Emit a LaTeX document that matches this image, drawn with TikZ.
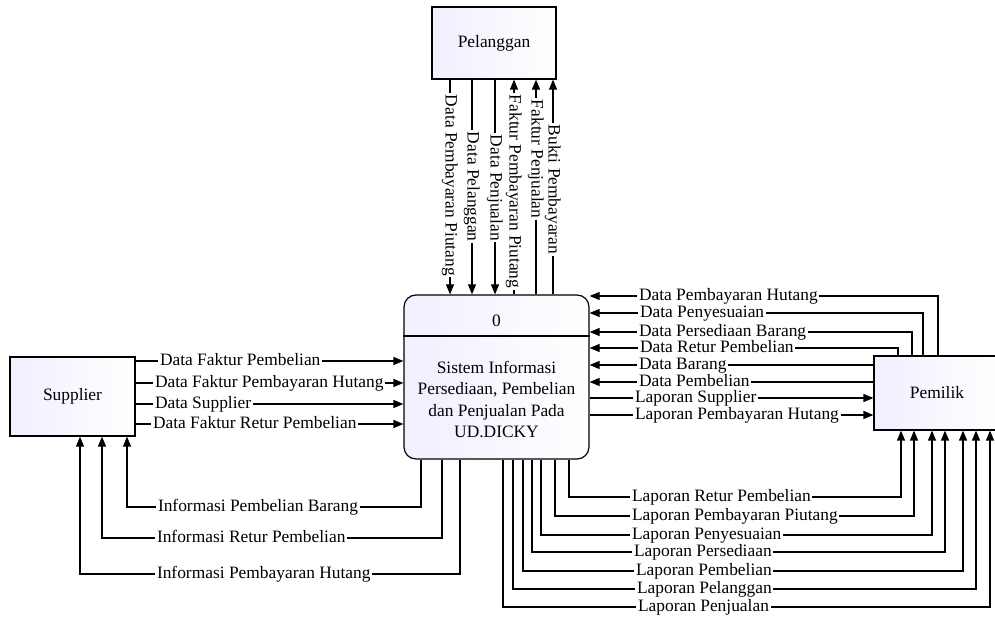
\documentclass[tikz,border=0pt]{standalone}
\usepackage{fontspec}
\setmainfont{Liberation Serif}
\usetikzlibrary{arrows.meta}

\begin{document}
\begin{tikzpicture}[x=0.5pt, y=-0.5pt,
    every node/.style={font=\fontsize{8.7}{10.8}\selectfont},
    entity/.style={draw, line width=0.6pt, left color=blue!6, right color=white, inner sep=0pt},
    procbox/.style={entity, rounded corners=6pt},
    flow/.style={line width=0.6pt, -{Triangle[length=5pt,width=4pt]}},
    lbl/.style={fill=white, inner xsep=0.8pt, inner ysep=0pt, text height=5.6pt, text depth=1.3pt, anchor=west}]
        \useasboundingbox (0,0) rectangle (995,619);

        % Entities and process
        \node[entity, minimum width=62pt, minimum height=36pt] (pel) at (494,43) {Pelanggan};
        \node[entity, minimum width=62.5pt, minimum height=39.5pt] (sup) at (72.5,396.5) {Supplier};
        \node[entity, minimum width=63pt, minimum height=37pt] (pem) at (937,393) {Pemilik};
        \node[procbox, minimum width=92.5pt, minimum height=82pt] (proc) at (496.5,377) {};
        \draw[line width=0.6pt] (proc.west |- 0,336) -- (proc.east |- 0,336);
        \node (pnum) at (496.5,321) {0};
        \node[align=center] (pname) at (496.5,399.5) {Sistem Informasi\\Persediaan, Pembelian\\dan Penjualan Pada\\UD.DICKY};

        % Pelanggan flows
        \draw[flow] (450,0 |- pel.south) -- (450,0 |- proc.north);
        \draw[flow] (472,0 |- pel.south) -- (472,0 |- proc.north);
        \draw[flow] (495,0 |- pel.south) -- (495,0 |- proc.north);
        \draw[flow] (514,0 |- proc.north) -- (514,0 |- pel.south);
        \draw[flow] (536,0 |- proc.north) -- (536,0 |- pel.south);
        \draw[flow] (553,0 |- proc.north) -- (553,0 |- pel.south);
        \node[lbl, rotate=-90] at (450,93) {Data Pembayaran Piutang};
        \node[lbl, rotate=-90] at (472,130) {Data Pelanggan};
        \node[lbl, rotate=-90] at (495,133) {Data Penjualan};
        \node[lbl, rotate=-90] at (514,93) {Faktur Pembayaran Piutang};
        \node[lbl, rotate=-90] at (536,98) {Faktur Penjualan};
        \node[lbl, rotate=-90] at (553,123) {Bukti Pembayaran};

        % Supplier to process
        \draw[flow] (sup.east |- 0,361) -- (proc.west |- 0,361);
        \draw[flow] (sup.east |- 0,383) -- (proc.west |- 0,383);
        \draw[flow] (sup.east |- 0,404) -- (proc.west |- 0,404);
        \draw[flow] (sup.east |- 0,424) -- (proc.west |- 0,424);
        \node[lbl] at (158,361) {Data Faktur Pembelian};
        \node[lbl] at (153,383) {Data Faktur Pembayaran Hutang};
        \node[lbl] at (153,404) {Data Supplier};
        \node[lbl] at (151,424) {Data Faktur Retur Pembelian};

        % Process to Supplier
        \draw[flow] (421,0 |- proc.south) |- (127,507) -- (127,0 |- sup.south);
        \draw[flow] (442,0 |- proc.south) |- (102,538) -- (102,0 |- sup.south);
        \draw[flow] (460,0 |- proc.south) |- (80,574) -- (80,0 |- sup.south);
        \node[lbl] at (156,507) {Informasi Pembelian Barang};
        \node[lbl] at (155,538) {Informasi Retur Pembelian};
        \node[lbl] at (155,574) {Informasi Pembayaran Hutang};

        % Pemilik to process
        \draw[flow] (938,0 |- pem.north) |- (proc.east |- 0,296);
        \draw[flow] (923,0 |- pem.north) |- (proc.east |- 0,313);
        \draw[flow] (912,0 |- pem.north) |- (proc.east |- 0,332);
        \draw[flow] (898,0 |- pem.north) |- (proc.east |- 0,348);
        \draw[flow] (pem.west |- 0,365) -- (proc.east |- 0,365);
        \draw[flow] (pem.west |- 0,382) -- (proc.east |- 0,382);
        \node[lbl] at (637,296) {Data Pembayaran Hutang};
        \node[lbl] at (638,313) {Data Penyesuaian};
        \node[lbl] at (637,332) {Data Persediaan Barang};
        \node[lbl] at (638,348) {Data Retur Pembelian};
        \node[lbl] at (637,365) {Data Barang};
        \node[lbl] at (637,382) {Data Pembelian};

        % Process to Pemilik
        \draw[flow] (proc.east |- 0,398) -- (pem.west |- 0,398);
        \draw[flow] (proc.east |- 0,415) -- (pem.west |- 0,415);
        \node[lbl] at (633,398) {Laporan Supplier};
        \node[lbl] at (633,415) {Laporan Pembayaran Hutang};

        % Reports to Pemilik
        \draw[flow] (569,0 |- proc.south) |- (901,497) -- (901,0 |- pem.south);
        \draw[flow] (555,0 |- proc.south) |- (914,516) -- (914,0 |- pem.south);
        \draw[flow] (541,0 |- proc.south) |- (932,535) -- (932,0 |- pem.south);
        \draw[flow] (532,0 |- proc.south) |- (945,552) -- (945,0 |- pem.south);
        \draw[flow] (523,0 |- proc.south) |- (963,571) -- (963,0 |- pem.south);
        \draw[flow] (513,0 |- proc.south) |- (976,589) -- (976,0 |- pem.south);
        \draw[flow] (503,0 |- proc.south) |- (990,607) -- (990,0 |- pem.south);
        \node[lbl] at (630,497) {Laporan Retur Pembelian};
        \node[lbl] at (630,516) {Laporan Pembayaran Piutang};
        \node[lbl] at (630,535) {Laporan Penyesuaian};
        \node[lbl] at (632,552) {Laporan Persediaan};
        \node[lbl] at (634,571) {Laporan Pembelian};
        \node[lbl] at (635,589) {Laporan Pelanggan};
        \node[lbl] at (636,607) {Laporan Penjualan};
    \end{tikzpicture}
\end{document}
